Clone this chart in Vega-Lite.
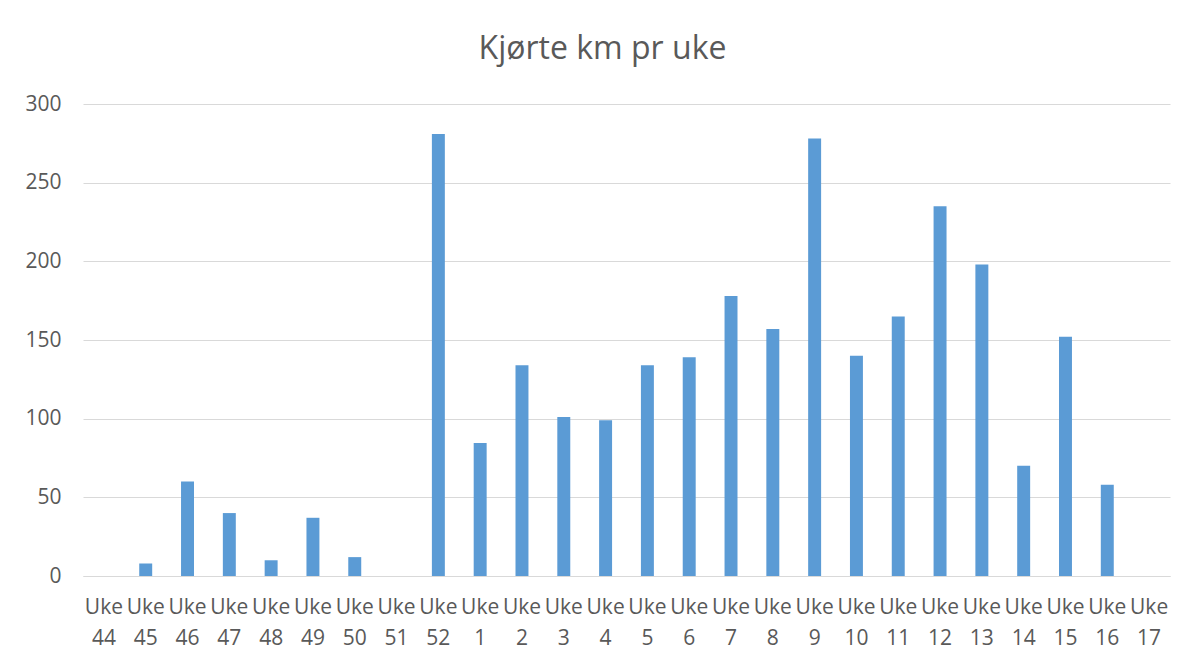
{
  "$schema": "https://vega.github.io/schema/vega-lite/v6.json",
  "autosize": {"type": "none"},
  "width": 1087,
  "height": 472,
  "padding": {"left": 83, "top": 104, "right": 27, "bottom": 87},
  "background": "white",
  "config": {"view": {"stroke": null}, "font": "Open Sans"},
  "title": {"text": "Kjørte km pr uke", "fontSize": 32, "fontWeight": "normal", "color": "#595959", "font": "Open Sans", "anchor": "middle", "offset": 27, "dx": -24},
  "data": {"values": [
    {"uke": "44", "km": 0},
    {"uke": "45", "km": 8},
    {"uke": "46", "km": 60},
    {"uke": "47", "km": 40},
    {"uke": "48", "km": 10},
    {"uke": "49", "km": 37},
    {"uke": "50", "km": 12},
    {"uke": "51", "km": 0},
    {"uke": "52", "km": 281},
    {"uke": "1", "km": 84.5},
    {"uke": "2", "km": 134},
    {"uke": "3", "km": 101},
    {"uke": "4", "km": 99},
    {"uke": "5", "km": 134},
    {"uke": "6", "km": 139},
    {"uke": "7", "km": 178},
    {"uke": "8", "km": 157},
    {"uke": "9", "km": 278},
    {"uke": "10", "km": 140},
    {"uke": "11", "km": 165},
    {"uke": "12", "km": 235},
    {"uke": "13", "km": 198},
    {"uke": "14", "km": 70},
    {"uke": "15", "km": 152},
    {"uke": "16", "km": 58},
    {"uke": "17", "km": 0}
  ]},
  "mark": {"type": "bar", "color": "#5B9BD5"},
  "encoding": {
    "x": {
      "field": "uke", "type": "nominal", "sort": null,
      "scale": {"paddingInner": 0.69, "paddingOuter": 0.345},
      "axis": {
        "title": null, "labelAngle": 0, "ticks": false,
        "domainColor": "#D9D9D9", "domainWidth": 1,
        "labelExpr": "['Uke', datum.label]",
        "labelFontSize": 21, "labelColor": "#595959", "labelPadding": 20,
        "labelLineHeight": 31, "labelBaseline": "top", "labelFont": "Open Sans"
      }
    },
    "y": {
      "field": "km", "type": "quantitative",
      "scale": {"domain": [0, 300]},
      "axis": {
        "title": null, "values": [0, 50, 100, 150, 200, 250, 300],
        "domain": false, "ticks": false, "gridColor": "#D9D9D9", "gridWidth": 1,
        "labelFontSize": 21, "labelColor": "#595959", "labelPadding": 22, "labelFont": "Open Sans"
      }
    }
  }
}
